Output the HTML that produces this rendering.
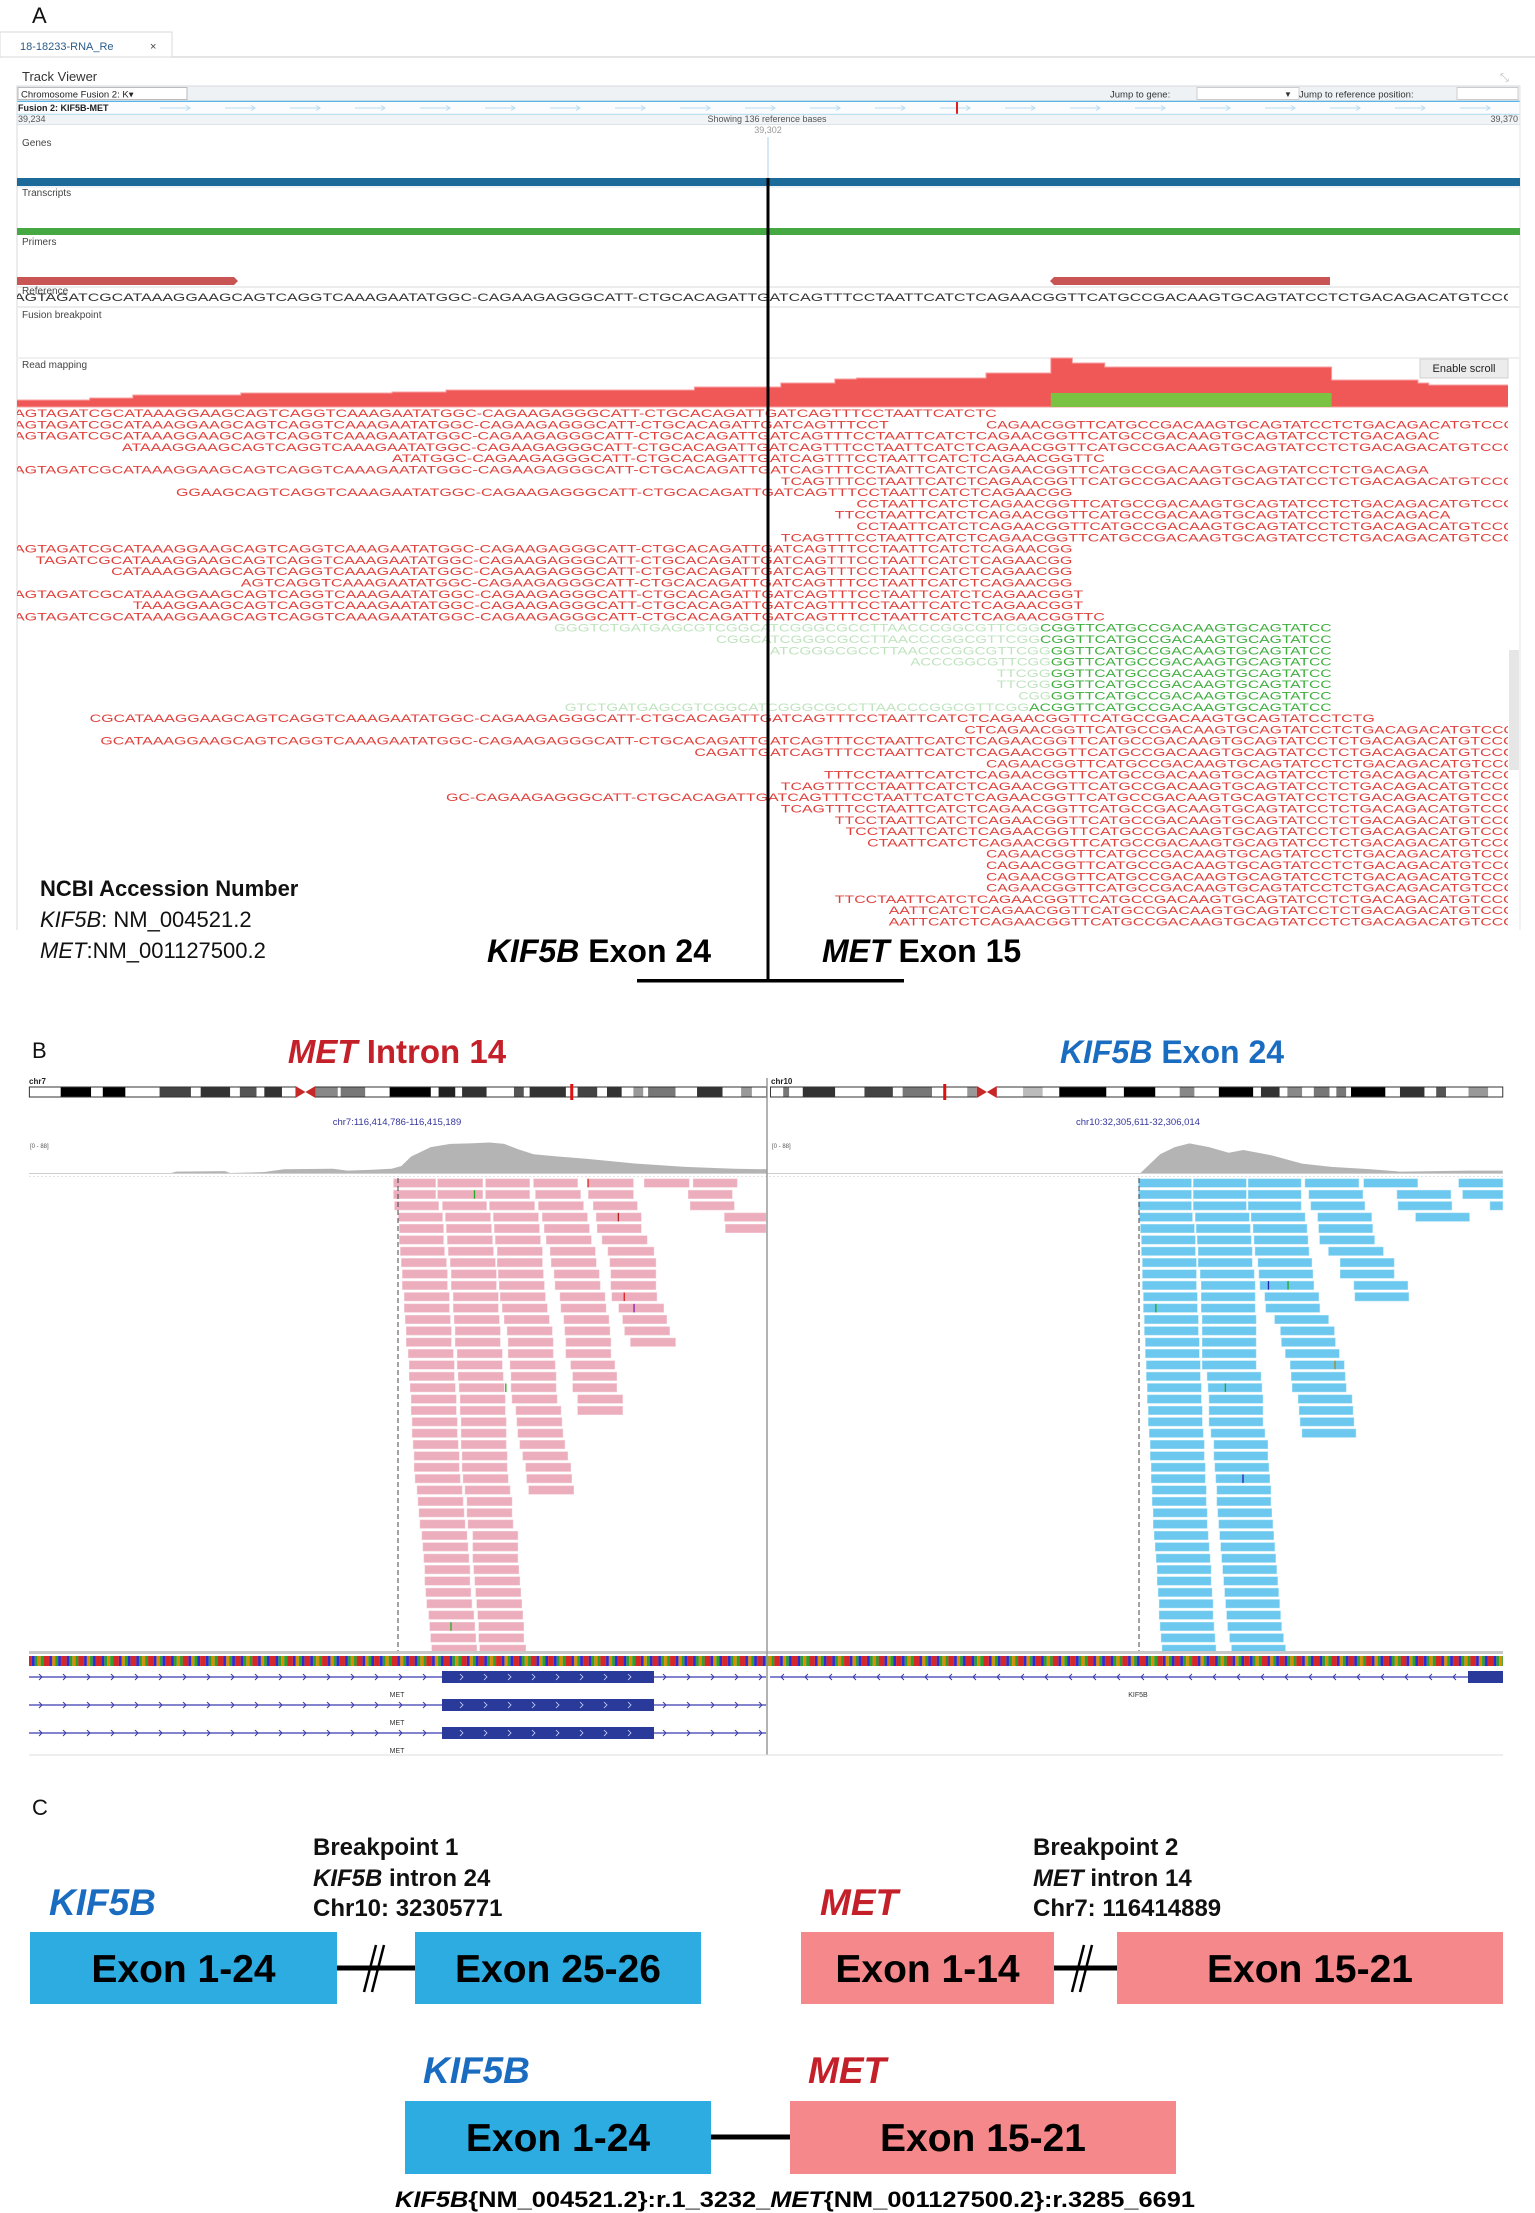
<!DOCTYPE html>
<html><head><meta charset="utf-8">
<style>
html,body{margin:0;padding:0;background:#fff;}
svg{display:block;font-family:"Liberation Sans",Arial,sans-serif;}
</style></head>
<body>
<svg id="fig" width="1535" height="2213" viewBox="0 0 1535 2213" xmlns="http://www.w3.org/2000/svg">
<defs>
  <clipPath id="clipA"><rect x="17" y="280" width="1491" height="650"/></clipPath>
  <pattern id="seqpat" x="29" y="0" width="34.8" height="20" patternUnits="userSpaceOnUse">
    <rect x="0" y="0" width="2.9" height="20" fill="#d62728"/>
    <rect x="2.9" y="0" width="2.9" height="20" fill="#2b2bd8"/>
    <rect x="5.8" y="0" width="2.9" height="20" fill="#2ca02c"/>
    <rect x="8.7" y="0" width="2.9" height="20" fill="#e08a00"/>
    <rect x="11.6" y="0" width="2.9" height="20" fill="#2ca02c"/>
    <rect x="14.5" y="0" width="2.9" height="20" fill="#d62728"/>
    <rect x="17.4" y="0" width="2.9" height="20" fill="#d62728"/>
    <rect x="20.3" y="0" width="2.9" height="20" fill="#2b2bd8"/>
    <rect x="23.2" y="0" width="2.9" height="20" fill="#e08a00"/>
    <rect x="26.1" y="0" width="2.9" height="20" fill="#2ca02c"/>
    <rect x="29" y="0" width="2.9" height="20" fill="#2b2bd8"/>
    <rect x="31.9" y="0" width="2.9" height="20" fill="#d62728"/>
  </pattern>
</defs>

<!-- ================= PANEL A ================= -->
<g>
  <text x="32" y="23" font-size="22" fill="#111">A</text>
  <rect x="0" y="32" width="172" height="25" fill="#fff" stroke="#d8d8d8"/>
  <text x="20" y="50" font-size="11" fill="#2b5c8a">18-18233-RNA_Re</text>
  <text x="150" y="50" font-size="11" fill="#444">×</text>
  <line x1="172" y1="57" x2="1535" y2="57" stroke="#dcdcdc" stroke-width="1.5"/>
  <text x="22" y="81" font-size="13" fill="#333">Track Viewer</text>
  <text x="1500" y="81" font-size="11" fill="#bbb">⤡</text>
  <!-- toolbar -->
  <rect x="17" y="86" width="1503" height="15" fill="#eef2f5" stroke="#d6dbe0"/>
  <rect x="18" y="87.5" width="169" height="12" fill="#fff" stroke="#bbb"/>
  <text x="21" y="97.5" font-size="9.5" fill="#222">Chromosome Fusion 2: K▾</text>
  <text x="1110" y="97.5" font-size="9.5" fill="#333">Jump to gene:</text>
  <rect x="1197" y="87.5" width="102" height="12" fill="#fff" stroke="#ccc"/>
  <text x="1284" y="97" font-size="8" fill="#333">▼</text>
  <text x="1299" y="97.5" font-size="9.5" fill="#333">Jump to reference position:</text>
  <rect x="1457" y="87.5" width="61" height="12" fill="#fff" stroke="#ccc"/>
  <line x1="17" y1="101.5" x2="1520" y2="101.5" stroke="#5ab4e6" stroke-width="1.5"/>
  <rect x="17" y="102" width="1503" height="12" fill="#fafcfd"/>
  <g id="fusionArrows"></g>
  <text x="18" y="111" font-size="9" font-weight="bold" fill="#222">Fusion 2: KIF5B-MET</text>
  <rect x="956" y="102" width="2" height="12" fill="#e02020"/>
  <line x1="17" y1="114.5" x2="1520" y2="114.5" stroke="#bfe0f3" stroke-width="1.5"/>
  <rect x="17" y="115" width="1503" height="9" fill="#f1f4f6"/>
  <text x="18" y="122" font-size="9" fill="#555">39,234</text>
  <text x="767" y="122" font-size="9" fill="#555" text-anchor="middle">Showing 136 reference bases</text>
  <text x="1518" y="122" font-size="9" fill="#555" text-anchor="end">39,370</text>
  <line x1="17" y1="124.5" x2="1520" y2="124.5" stroke="#dde3e8"/>
  <text x="768" y="133" font-size="9" fill="#999" text-anchor="middle">39,302</text>
  <line x1="768" y1="137" x2="768" y2="178" stroke="#a8d0ee" stroke-width="1"/>
  <line x1="17" y1="86" x2="17" y2="930" stroke="#d8d8d8"/>
  <line x1="1520" y1="86" x2="1520" y2="930" stroke="#e4e4e4"/>
  <!-- track labels -->
  <text x="22" y="146" font-size="10" fill="#444">Genes</text>
  <rect x="17" y="178" width="1503" height="8" fill="#1c6a9a"/>
  <line x1="17" y1="187" x2="1520" y2="187" stroke="#dfe6ec"/>
  <text x="22" y="196" font-size="10" fill="#444">Transcripts</text>
  <rect x="17" y="228" width="1503" height="7" fill="#46a843"/>
  <text x="22" y="245" font-size="10" fill="#444">Primers</text>
  <path d="M17 277 H234 L238 281 L234 285 H17 Z" fill="#c85454"/>
  <path d="M1054 277 H1330 V285 H1054 L1050 281 Z" fill="#c85454"/>
  <line x1="17" y1="287" x2="1520" y2="287" stroke="#ececec" stroke-width="2"/>
  <text x="22" y="294" font-size="10" fill="#444">Reference</text>
  <g id="refRow" clip-path="url(#clipA)"></g>
  <line x1="17" y1="307" x2="1520" y2="307" stroke="#ececec" stroke-width="2"/>
  <text x="22" y="318" font-size="10" fill="#444">Fusion breakpoint</text>
  <line x1="17" y1="358" x2="1520" y2="358" stroke="#f0f0f0" stroke-width="2"/>
  <text x="22" y="368" font-size="10" fill="#444">Read mapping</text>
  <g id="covA" clip-path="url(#clipA)"></g>
  <rect x="1420" y="359" width="88" height="19" fill="#ececec" stroke="#d0d0d0"/>
  <text x="1464" y="372" font-size="11" fill="#222" text-anchor="middle">Enable scroll</text>
  <g id="readsA" clip-path="url(#clipA)"></g>
  <rect x="1509" y="650" width="10" height="120" fill="#e6e6e6"/>
  <!-- breakpoint line -->
  <rect x="766.5" y="178" width="3" height="804" fill="#000"/>
  <rect x="637" y="979" width="267" height="3.5" fill="#000"/>
  <text x="40" y="896" font-size="22" font-weight="bold" fill="#111">NCBI Accession Number</text>
  <text x="40" y="927" font-size="22" fill="#111"><tspan font-style="italic">KIF5B</tspan>: NM_004521.2</text>
  <text x="40" y="958" font-size="22" fill="#111"><tspan font-style="italic">MET</tspan>:NM_001127500.2</text>
  <text x="711" y="962" font-size="32" font-weight="bold" fill="#000" text-anchor="end"><tspan font-style="italic">KIF5B</tspan> Exon 24</text>
  <text x="822" y="962" font-size="32" font-weight="bold" fill="#000"><tspan font-style="italic">MET</tspan> Exon 15</text>
</g>

<!-- ================= PANEL B ================= -->
<g>
  <text x="32" y="1058" font-size="22" fill="#111">B</text>
  <text x="397" y="1063" font-size="33" font-weight="bold" fill="#c4202a" text-anchor="middle"><tspan font-style="italic">MET</tspan> Intron 14</text>
  <text x="1172" y="1063" font-size="32" font-weight="bold" fill="#1a6cc0" text-anchor="middle"><tspan font-style="italic">KIF5B</tspan> Exon 24</text>
  <text x="29" y="1084" font-size="8" font-weight="bold" fill="#222">chr7</text>
  <text x="771" y="1084" font-size="8" font-weight="bold" fill="#222">chr10</text>
  <g id="ideo"></g>
  <text x="397" y="1125" font-size="9.5" fill="#3535a0" text-anchor="middle">chr7:116,414,786-116,415,189</text>
  <text x="1138" y="1125" font-size="9.5" fill="#3535a0" text-anchor="middle">chr10:32,305,611-32,306,014</text>
  <text x="30" y="1148" font-size="6" fill="#555">[0 - 88]</text>
  <text x="772" y="1148" font-size="6" fill="#555">[0 - 88]</text>
  <g id="covB"></g>
  <line x1="29" y1="1173.5" x2="1503" y2="1173.5" stroke="#cfcfcf"/>
  <line x1="29" y1="1176.5" x2="1503" y2="1176.5" stroke="#e3e3e3" stroke-dasharray="2 2"/>
  <g id="readsB"></g>
  <line x1="398" y1="1178" x2="398" y2="1652" stroke="#444" stroke-dasharray="5 3"/>
  <line x1="1139" y1="1178" x2="1139" y2="1652" stroke="#444" stroke-dasharray="5 3"/>
  <rect x="29" y="1651" width="1474" height="3" fill="#c8c8c8"/>
  <rect x="29" y="1656" width="1474" height="10" fill="url(#seqpat)"/>
  <g id="genesB"></g>
  <line x1="767" y1="1078" x2="767" y2="1755" stroke="#9a9a9a" stroke-width="1.5"/>
  <line x1="29" y1="1755" x2="1503" y2="1755" stroke="#dcdcdc"/>
</g>

<!-- ================= PANEL C ================= -->
<g>
  <text x="32" y="1815" font-size="22" fill="#111">C</text>
  <text x="49" y="1915" font-size="37" font-weight="bold" font-style="italic" fill="#1a6cc0">KIF5B</text>
  <text x="313" y="1855" font-size="24" font-weight="bold" fill="#111">Breakpoint 1</text>
  <text x="313" y="1886" font-size="24" font-weight="bold" fill="#111"><tspan font-style="italic">KIF5B</tspan> intron 24</text>
  <text x="313" y="1916" font-size="24" font-weight="bold" fill="#111">Chr10: 32305771</text>
  <line x1="337" y1="1968" x2="415" y2="1968" stroke="#000" stroke-width="5"/>
  <line x1="364" y1="1992" x2="376" y2="1945" stroke="#000" stroke-width="2.5"/>
  <line x1="372" y1="1992" x2="384" y2="1945" stroke="#000" stroke-width="2.5"/>
  <rect x="30" y="1932" width="307" height="72" fill="#2dace2"/>
  <text x="183.5" y="1982" font-size="39" font-weight="bold" fill="#000" text-anchor="middle">Exon 1-24</text>
  <rect x="415" y="1932" width="286" height="72" fill="#2dace2"/>
  <text x="558" y="1982" font-size="39" font-weight="bold" fill="#000" text-anchor="middle">Exon 25-26</text>

  <text x="820" y="1915" font-size="37" font-weight="bold" font-style="italic" fill="#c4202a">MET</text>
  <text x="1033" y="1855" font-size="24" font-weight="bold" fill="#111">Breakpoint 2</text>
  <text x="1033" y="1886" font-size="24" font-weight="bold" fill="#111"><tspan font-style="italic">MET</tspan> intron 14</text>
  <text x="1033" y="1916" font-size="24" font-weight="bold" fill="#111">Chr7: 116414889</text>
  <line x1="1054" y1="1968" x2="1117" y2="1968" stroke="#000" stroke-width="5"/>
  <line x1="1072" y1="1992" x2="1084" y2="1945" stroke="#000" stroke-width="2.5"/>
  <line x1="1080" y1="1992" x2="1092" y2="1945" stroke="#000" stroke-width="2.5"/>
  <rect x="801" y="1932" width="253" height="72" fill="#f4888a"/>
  <text x="927.5" y="1982" font-size="39" font-weight="bold" fill="#000" text-anchor="middle">Exon 1-14</text>
  <rect x="1117" y="1932" width="386" height="72" fill="#f4888a"/>
  <text x="1310" y="1982" font-size="39" font-weight="bold" fill="#000" text-anchor="middle">Exon 15-21</text>

  <text x="423" y="2083" font-size="37" font-weight="bold" font-style="italic" fill="#1a6cc0">KIF5B</text>
  <text x="808" y="2083" font-size="37" font-weight="bold" font-style="italic" fill="#c4202a">MET</text>
  <line x1="711" y1="2137" x2="790" y2="2137" stroke="#000" stroke-width="5"/>
  <rect x="405" y="2101" width="306" height="73" fill="#2dace2"/>
  <text x="558" y="2151" font-size="39" font-weight="bold" fill="#000" text-anchor="middle">Exon 1-24</text>
  <rect x="790" y="2101" width="386" height="73" fill="#f4888a"/>
  <text x="983" y="2151" font-size="39" font-weight="bold" fill="#000" text-anchor="middle">Exon 15-21</text>
  <text x="395" y="2207" font-size="22" font-weight="bold" fill="#000" textLength="800" lengthAdjust="spacingAndGlyphs"><tspan font-style="italic">KIF5B</tspan>{NM_004521.2}:r.1_3232_<tspan font-style="italic">MET</tspan>{NM_001127500.2}:r.3285_6691</text>
</g>

<script>
// ---------- Panel A data ----------
const REF = "AGTAGATCGCATAAAGGAAGCAGTCAGGTCAAAGAATATGGC-CAGAAGAGGGCATT-CTGCACAGATTGATCAGTTTCCTAATTCATCTCAGAACGGTTCATGCCGACAAGTGCAGTATCCTCTGACAGACATGTCCCC";
const SOFTCLIP = "TGGGGTCTGATGAGCGTCGGCATCGGGCGCCTTAACCCGGCGTTCGG";
const readRow   = [0,1,1,2,3,4,5,6,7,8,9,10,11,12,13,14,15,16,17,18,19,19,20,20,21,21,22,22,23,23,24,24,25,25,26,26,27,28,29,30,31,32,33,34,35,36,37,38,39,40,41,42,43,44,45];
const readStart = [0,0,90,0,10,35,0,71,15,78,76,78,71,0,2,9,21,0,11,0,50,95,65,95,70,96,83,96,91,96,91,96,93,96,51,94,7,88,8,63,90,75,71,40,71,76,77,79,90,90,90,90,76,81,81];
const readEnd   = [91,81,140,132,140,101,131,140,98,140,133,140,140,98,98,98,98,99,99,101,95,122,95,122,96,122,96,122,96,122,96,122,96,122,94,122,126,140,140,140,140,140,140,140,140,140,140,140,140,140,140,140,140,140,140];
const readKind  = ["r","r","r","r","r","r","r","r","r","r","r","r","r","r","r","r","r","r","r","r","gf","g","gf","g","gf","g","gf","g","gf","g","gf","g","gf","g","gf","g","r","r","r","r","r","r","r","r","r","r","r","r","r","r","r","r","r","r","r"];
const covCol   = [0,7,11,21,35,40,63,71,76,78,81,90,96,98,101,122,130,131,140];
const covDepth = [7,9,12,14,15,17,20,24,28,29,29,34,49,44,40,27,24,22,22];
const greenCovStart = 96, greenCovEnd = 122, greenCovDepth = 14;

// ---------- Panel B data (genomic positions in track units) ----------
const metReads = [
 [[402,445],[447,493],[496,541],[545,590],[601,647],[658,704],[708,753]],
 [[402,445],[447,493],[496,541],[547,593],[601,647],[703,748]],
 [[403,448],[452,497],[500,546],[550,596],[606,651],[705,750]],
 [[407,452],[455,501],[504,550],[554,600],[609,655],[740,783]],
 [[408,453],[456,502],[505,551],[556,602],[610,655],[741,783]],
 [[408,453],[457,503],[506,552],[558,604],[615,661]],
 [[409,454],[458,504],[508,554],[562,608],[621,668]],
 [[410,456],[460,506],[508,554],[563,609],[623,670]],
 [[411,457],[461,507],[509,555],[566,612],[624,670]],
 [[411,457],[461,507],[510,556],[567,613],[624,670]],
 [[413,459],[463,509],[511,557],[572,618],[625,671]],
 [[413,459],[463,509],[513,559],[573,619],[632,678]],
 [[414,460],[464,510],[515,561],[576,622],[636,681]],
 [[415,461],[465,511],[518,564],[577,623],[638,684]],
 [[415,461],[465,511],[519,565],[578,624],[644,690]],
 [[417,463],[467,513],[519,565],[578,624]],
 [[418,464],[467,513],[521,567],[583,628]],
 [[418,464],[468,514],[522,568],[585,630]],
 [[419,465],[469,515],[522,568],[585,630]],
 [[420,466],[470,516],[523,569],[590,636]],
 [[420,466],[470,516],[527,573],[590,636]],
 [[421,467],[471,517],[528,574]],
 [[421,467],[471,517],[529,575]],
 [[422,468],[471,517],[531,577]],
 [[423,469],[472,518],[534,580]],
 [[423,469],[472,518],[537,583]],
 [[424,470],[473,519],[538,584]],
 [[426,472],[475,521],[540,586]],
 [[427,473],[477,523]],
 [[428,474],[477,523]],
 [[429,475],[478,524]],
 [[431,477],[483,529]],
 [[432,478],[483,529]],
 [[433,479],[483,529]],
 [[434,480],[484,530]],
 [[434,480],[485,531]],
 [[435,481],[486,532]],
 [[436,482],[487,533]],
 [[438,484],[488,534]],
 [[439,485],[489,535]],
 [[440,486],[489,535]],
 [[441,487],[490,537]]
];
const kifReads = [
 [[1163,1217],[1219,1273],[1275,1329],[1333,1388],[1393,1448],[1490,1535]],
 [[1163,1217],[1219,1273],[1275,1329],[1337,1392],[1427,1482],[1494,1535]],
 [[1163,1217],[1219,1273],[1275,1329],[1339,1394],[1428,1483],[1522,1535]],
 [[1164,1218],[1221,1276],[1278,1333],[1346,1401],[1446,1501]],
 [[1165,1220],[1222,1277],[1280,1335],[1347,1402]],
 [[1166,1221],[1223,1278],[1281,1336],[1348,1404]],
 [[1166,1221],[1224,1279],[1282,1337],[1357,1413]],
 [[1167,1222],[1224,1279],[1285,1340],[1369,1424]],
 [[1167,1222],[1226,1281],[1286,1341],[1369,1424]],
 [[1167,1222],[1227,1282],[1287,1342],[1383,1438]],
 [[1168,1223],[1227,1282],[1292,1347],[1384,1439]],
 [[1168,1223],[1227,1282],[1293,1348]],
 [[1169,1224],[1228,1283],[1302,1357]],
 [[1169,1224],[1228,1283],[1308,1363]],
 [[1170,1225],[1228,1283],[1309,1364]],
 [[1170,1225],[1228,1283],[1313,1368]],
 [[1171,1226],[1228,1283],[1318,1373]],
 [[1171,1226],[1233,1288],[1319,1374]],
 [[1172,1227],[1234,1289],[1320,1375]],
 [[1172,1227],[1235,1290],[1326,1381]],
 [[1173,1228],[1235,1290],[1327,1382]],
 [[1173,1228],[1235,1290],[1328,1383]],
 [[1174,1229],[1237,1292],[1330,1385]],
 [[1175,1230],[1240,1295]],
 [[1175,1230],[1240,1295]],
 [[1176,1231],[1241,1296]],
 [[1176,1231],[1242,1297]],
 [[1177,1232],[1243,1298]],
 [[1177,1232],[1243,1298]],
 [[1178,1233],[1244,1299]],
 [[1178,1233],[1245,1300]],
 [[1179,1234],[1246,1301]],
 [[1180,1235],[1247,1302]],
 [[1181,1236],[1248,1303]],
 [[1182,1237],[1249,1304]],
 [[1182,1237],[1250,1305]],
 [[1183,1238],[1251,1306]],
 [[1184,1239],[1252,1307]],
 [[1184,1239],[1253,1308]],
 [[1185,1240],[1254,1309]],
 [[1186,1241],[1256,1311]],
 [[1187,1242],[1258,1313]]
];
const metCovPos   = [175,180,230,235,270,290,340,355,380,400,410,420,440,460,480,500,515,530,545,570,600,650,700,750,783];
const metCovDepth = [0,3,4,0,2,8,9,5,7,9,15,35,55,62,63,65,62,50,40,35,30,20,13,9,8];
const kifCovPos   = [1165,1170,1185,1200,1215,1235,1255,1270,1285,1300,1330,1360,1400,1430,1500,1535];
const kifCovDepth = [0,10,40,55,63,55,43,49,43,37,20,13,8,3,5,5];
const chr7Bands  = [[62,93,"#000"],[105,128,"#000"],[163,195,"#444"],[205,235,"#333"],[245,262,"#555"],[270,288,"#333"],[322,345,"#888"],[348,373,"#777"],[398,440,"#000"],[448,465,"#222"],[472,497,"#333"],[525,535,"#555"],[541,578,"#333"],[590,610,"#444"],[620,635,"#333"],[647,657,"#999"],[662,690,"#777"],[712,738,"#333"],[757,768,"#999"]];
const chr10Bands = [[800,806,"#777"],[820,853,"#333"],[883,912,"#444"],[922,952,"#777"],[988,998,"#999"],[1045,1065,"#bbb"],[1082,1130,"#000"],[1148,1180,"#000"],[1205,1220,"#888"],[1245,1280,"#000"],[1288,1307,"#333"],[1315,1330,"#888"],[1342,1358,"#777"],[1365,1375,"#777"],[1380,1415,"#000"],[1430,1455,"#333"],[1467,1477,"#555"],[1500,1520,"#999"]];

// ---------- helpers ----------
const NS = 'http://www.w3.org/2000/svg';
function mk(tag, attrs, parent){
  const e = document.createElementNS(NS, tag);
  for (const k in attrs) e.setAttribute(k, attrs[k]);
  parent.appendChild(e);
  return e;
}
// panel A axes
const CW = 10.8, X0 = 14;
function colX(c){ return X0 + c*CW; }
const ROW0 = 413, ROWH = 11.3;
function rowY(r){ return ROW0 + r*ROWH; }
const COVBASE = 407;
function covY(d){ return COVBASE - d; }
// panel B axes
function bx(v){ return v*0.979; }
const BROW0 = 1178.8, BROWH = 11.37;
function bRowY(r){ return BROW0 + r*BROWH; }
function bCovY(d){ return 1173 - d*0.47; }

// fusion arrows
const fa = document.getElementById('fusionArrows');
for (let x = 160; x < 1500; x += 65) {
  const l = mk('path', {d:`M${x} 108 H${x+30} M${x+26} 105.5 L${x+30} 108 L${x+26} 110.5`, stroke:'#b9dcf2', 'stroke-width':1, fill:'none'}, fa);
  
  
}

// reference row
const refG = document.getElementById('refRow');
const refT = mk('text', {x: colX(0), y: 301, 'font-size': 11, fill:'#333', textLength: (REF.length*CW).toFixed(1), lengthAdjust:'spacingAndGlyphs'}, refG);
refT.textContent = REF;



// coverage A
const covG = document.getElementById('covA');
let d = `M${colX(covCol[0])} ${COVBASE}`;
for (let i = 0; i < covCol.length - 1; i++) {
  d += ` L${colX(covCol[i])} ${covY(covDepth[i])} L${colX(covCol[i+1])} ${covY(covDepth[i])}`;
}
d += ` L${colX(covCol[covCol.length-1])} ${COVBASE} Z`;
const covP = mk('path', {d, fill:'#f05858', stroke:'#f7a0a0', 'stroke-width':1}, covG);


const gcov = mk('rect', {x: colX(greenCovStart), y: covY(greenCovDepth), width: (greenCovEnd-greenCovStart)*CW, height: greenCovDepth, fill:'#7cc242'}, covG);



// reads A
const rg = document.getElementById('readsA');
for (let i = 0; i < readRow.length; i++) {
  const s = readStart[i], e = readEnd[i], k = readKind[i];
  let txt;
  if (k === 'gf') { txt = SOFTCLIP.slice(SOFTCLIP.length - (e - s)); }
  else { txt = REF.slice(s, e); }
  const fill = k === 'r' ? '#e0403c' : (k === 'g' ? '#3fae3f' : '#bfe3bf');
  const t = mk('text', {x: colX(s), y: rowY(readRow[i]) + 4, 'font-size': 11, fill, textLength: (txt.length*CW).toFixed(1), lengthAdjust:'spacingAndGlyphs'}, rg);
  t.textContent = txt;
  
  
}

// ideograms
const ideo = document.getElementById('ideo');
function chrom(x1, x2, cen, bands, red){
  const body = mk('rect', {x: bx(x1), y: 1087, width: bx(x2)-bx(x1), height: 10, fill:'#fff', stroke:'#333', 'stroke-width':1}, ideo);
  
  
  for (const b of bands) {
    const r = mk('rect', {x: bx(b[0]), y: 1087.5, width: bx(b[1])-bx(b[0]), height: 9, fill: b[2]}, ideo);
    
    
  }
  const c = mk('path', {d:`M${bx(cen)-10} 1086 L${bx(cen)} 1092 L${bx(cen)-10} 1098 Z M${bx(cen)+10} 1086 L${bx(cen)} 1092 L${bx(cen)+10} 1098 Z`, fill:'#c62828'}, ideo);
  
  
  const g = mk('rect', {x: bx(cen)-10, y: 1086, width: 20, height: 12, fill:'#fff'}, ideo);
  ideo.insertBefore(g, c);
  const m = mk('rect', {x: bx(red)-1.5, y: 1084, width: 3, height: 16, fill:'#e01010'}, ideo);
  
  
}
chrom(30, 783, 312, chr7Bands, 584);
chrom(787, 1535, 1008, chr10Bands, 965);

// coverage B
const cb = document.getElementById('covB');
function covPath(pos, dep){
  let p = `M${bx(pos[0])} 1173`;
  for (let i = 0; i < pos.length; i++) p += ` L${bx(pos[i])} ${bCovY(dep[i])}`;
  p += ` L${bx(pos[pos.length-1])} 1173 Z`;
  return p;
}
const cm = mk('path', {d: covPath(metCovPos, metCovDepth), fill:'#b4b4b4'}, cb);


const ck = mk('path', {d: covPath(kifCovPos, kifCovDepth), fill:'#b4b4b4'}, cb);



// reads B
const rb = document.getElementById('readsB');
function drawReads(rows, color, edge, clipR){
  rows.forEach((row, r) => {
    row.forEach(seg => {
      const x1 = bx(seg[0]), x2 = Math.min(bx(seg[1]), clipR);
      const el = mk('rect', {x: x1, y: bRowY(r), width: Math.max(1, x2 - x1), height: 8.5, fill: color, stroke: edge, 'stroke-width': 0.5}, rb);
      
      
    });
  });
}
drawReads(metReads, '#ecaebd', '#f4cdd6', 766);
drawReads(kifReads, '#6cc8ee', '#a7dff5', 1503);
// a few mismatch ticks
const ticks = [[600,0,'#d22'],[484,1,'#2a2'],[631,3,'#a22'],[637,10,'#d22'],[647,11,'#82a'],[516,18,'#2a2'],[460,39,'#2a2'],[1295,9,'#22a'],[1315,9,'#2a2'],[1180,11,'#2a2'],[1363,16,'#a82'],[1251,18,'#2a2'],[1269,26,'#22a']];
ticks.forEach(t => {
  const el = mk('rect', {x: bx(t[0]), y: bRowY(t[1]), width: 1.3, height: 8.5, fill: t[2]}, rb);
  
  
});

// gene tracks B
const gb = document.getElementById('genesB');
function geneLine(x1, x2, y, dir, box, label, lx){
  const l = mk('line', {x1, y1: y, x2, y2: y, stroke:'#3b3bb0', 'stroke-width':1.2}, gb);
  
  
  for (let x = x1 + 12; x < x2 - 4; x += 24) {
    const c = dir > 0 ? `M${x-2} ${y-3} L${x+1} ${y} L${x-2} ${y+3}` : `M${x+2} ${y-3} L${x-1} ${y} L${x+2} ${y+3}`;
    const ch = mk('path', {d: c, stroke:'#3b3bb0', fill:'none', 'stroke-width':1}, gb);
    
    
  }
  const b = mk('rect', {x: box[0], y: y-6, width: box[1]-box[0], height: 12, fill:'#2a3a9a'}, gb);
  
  
  if (dir > 0) {
    for (let x = box[0] + 20; x < box[1] - 5; x += 24) {
      const ch = mk('path', {d:`M${x-2} ${y-3} L${x+1} ${y} L${x-2} ${y+3}`, stroke:'#cfd6ff', fill:'none', 'stroke-width':0.8}, gb);
      
      
    }
  }
  const t = mk('text', {x: lx, y: y + 20, 'font-size': 7, fill:'#333', 'text-anchor':'middle'}, gb);
  t.textContent = label;
  
  
}
geneLine(29, 766, 1677, 1, [442, 654], 'MET', 397);
geneLine(29, 766, 1705, 1, [442, 654], 'MET', 397);
geneLine(29, 766, 1733, 1, [442, 654], 'MET', 397);
geneLine(770, 1503, 1677, -1, [1468, 1503], 'KIF5B', 1138);
</script>
</svg>
</body></html>
